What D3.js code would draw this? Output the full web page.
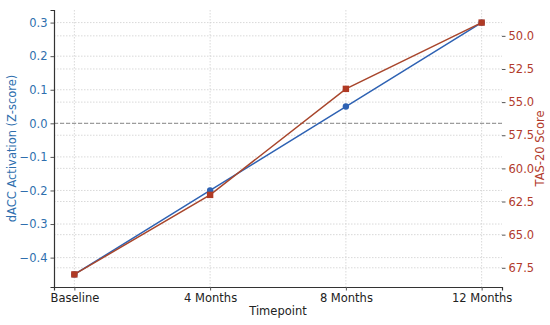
<!DOCTYPE html>
<html>
<head>
<meta charset="utf-8">
<script src="https://cdn.jsdelivr.net/npm/d3@7"></script>
<style>
  html, body { margin: 0; padding: 0; background: #fff; }
  svg { display: block; }
  svg text { font-family: "DejaVu Sans", sans-serif; }
</style>
</head>
<body>
<svg id="chart" width="550" height="325"></svg>
<script>
// data
var timepoints = ["Baseline", "4 Months", "8 Months", "12 Months"];
var daccValues = [-0.45, -0.2, 0.05, 0.3];
var tasValues = [68, 62, 54, 49];
var leftTicks = [-0.4, -0.3, -0.2, -0.1, 0.0, 0.1, 0.2, 0.3];
var rightTicks = [50, 52.5, 55, 57.5, 60, 62.5, 65, 67.5];

var svg = d3.select("#chart");
var m = { top: 10, right: 48, bottom: 38, left: 54 },
    W = 550, H = 325,
    x0 = m.left, x1 = W - m.right, y0 = m.top, y1 = H - m.bottom;

var blue = "#2e62b3", blueTxt = "#2f6fae", red = "#a8462c", redTxt = "#b23b2c";
var font = "DejaVu Sans", fs = "11.5px";

var x = d3.scalePoint().domain(timepoints).range([x0, x1]).padding(0.15);
var yL = d3.scaleLinear().domain([-0.4875, 0.3375]).range([y1, y0]);
var yR = d3.scaleLinear().domain([48.05, 68.95]).range([y0, y1]);

// grids (both axes)
var grid = svg.append("g").attr("stroke", "#cfcfcf").attr("stroke-width", 0.8).attr("stroke-dasharray", "1.5,1.5");
grid.selectAll("line.gx").data(timepoints).enter().append("line")
    .attr("x1", function(d) { return x(d); }).attr("x2", function(d) { return x(d); })
    .attr("y1", y0).attr("y2", y1);
grid.selectAll("line.gl").data(leftTicks).enter().append("line")
    .attr("x1", x0).attr("x2", x1)
    .attr("y1", function(d) { return yL(d); }).attr("y2", function(d) { return yL(d); });
grid.selectAll("line.gr").data(rightTicks).enter().append("line")
    .attr("x1", x0).attr("x2", x1)
    .attr("y1", function(d) { return yR(d); }).attr("y2", function(d) { return yR(d); });

// zero reference line
svg.append("line").attr("x1", x0).attr("x2", x1)
    .attr("y1", yL(0)).attr("y2", yL(0))
    .attr("stroke", "#8a8a8a").attr("stroke-width", 1).attr("stroke-dasharray", "4,2");

// axes
var ax = svg.append("g").attr("transform", "translate(0," + y1 + ")")
    .call(d3.axisBottom(x).tickSize(3.5).tickPadding(3));
var al = svg.append("g").attr("transform", "translate(" + x0 + ",0)")
    .call(d3.axisLeft(yL).tickValues(leftTicks).tickFormat(d3.format(".1f")).tickSize(3.5).tickPadding(3));
var ar = svg.append("g").attr("transform", "translate(" + x1 + ",0)")
    .call(d3.axisRight(yR).tickValues(rightTicks).tickFormat(d3.format(".1f")).tickSize(3.5).tickPadding(3));
ar.select(".domain").remove();

[ax, al, ar].forEach(function(g) {
    g.attr("font-family", font).attr("font-size", fs);
    g.selectAll(".tick line").attr("stroke", "#555");
});
ax.selectAll("text").attr("fill", "#222");
al.selectAll("text").attr("fill", blueTxt);
ar.selectAll("text").attr("fill", redTxt);
[ax, al].forEach(function(g) {
    g.select(".domain").attr("stroke", "#333").attr("stroke-width", 1.2);
});

// series
var lineL = d3.line().x(function(d, i) { return x(timepoints[i]); }).y(function(d) { return yL(d); });
var lineR = d3.line().x(function(d, i) { return x(timepoints[i]); }).y(function(d) { return yR(d); });

svg.append("path").datum(daccValues).attr("d", lineL)
    .attr("fill", "none").attr("stroke", blue).attr("stroke-width", 1.5);
svg.selectAll("circle.pt").data(daccValues).enter().append("circle")
    .attr("cx", function(d, i) { return x(timepoints[i]); })
    .attr("cy", function(d) { return yL(d); })
    .attr("r", 3.2).attr("fill", blue);

svg.append("path").datum(tasValues).attr("d", lineR)
    .attr("fill", "none").attr("stroke", red).attr("stroke-width", 1.5);
svg.selectAll("rect.pt").data(tasValues).enter().append("rect")
    .attr("x", function(d, i) { return x(timepoints[i]) - 3.2; })
    .attr("y", function(d) { return yR(d) - 3.2; })
    .attr("width", 6.4).attr("height", 6.4).attr("fill", "#b03a24");

// axis titles
svg.append("text").attr("x", (x0 + x1) / 2).attr("y", 315)
    .attr("text-anchor", "middle").style("font-size", fs).attr("fill", "#222").text("Timepoint");
svg.append("text").attr("transform", "translate(16," + ((y0 + y1) / 2) + ") rotate(-90)")
    .attr("text-anchor", "middle").style("font-size", fs).attr("fill", blueTxt).text("dACC Activation (Z-score)");
svg.append("text").attr("transform", "translate(544," + ((y0 + y1) / 2) + ") rotate(-90)")
    .attr("text-anchor", "middle").style("font-size", fs).attr("fill", redTxt).text("TAS-20 Score");
</script>
</body>
</html>
